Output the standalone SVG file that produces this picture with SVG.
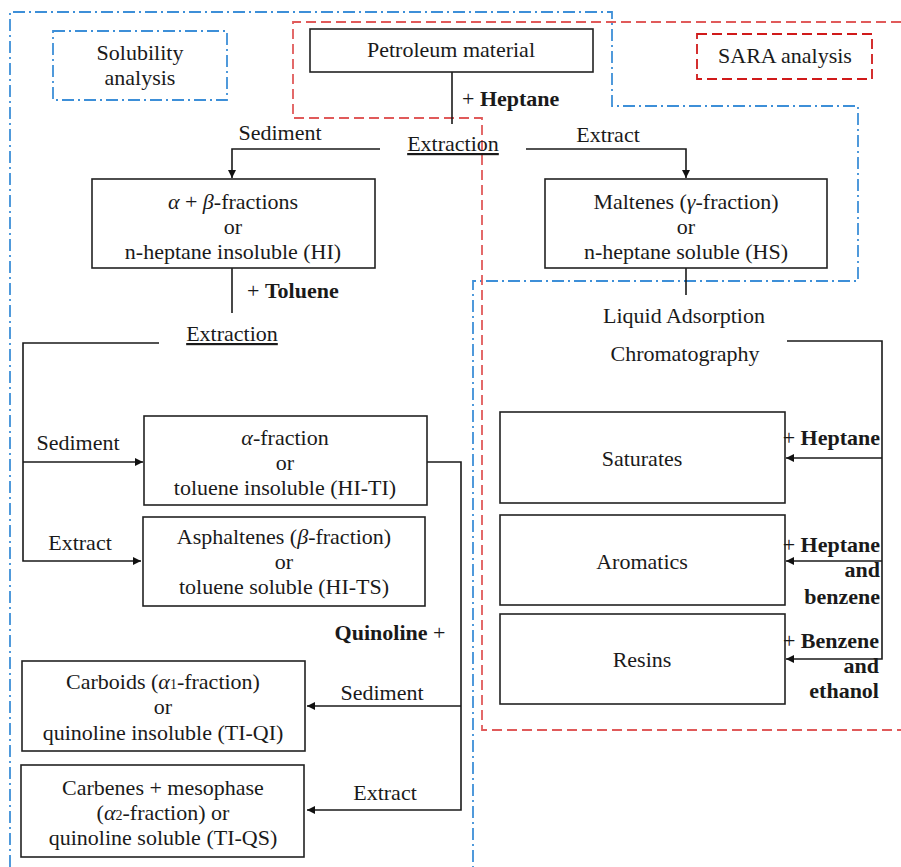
<svg xmlns="http://www.w3.org/2000/svg" width="901" height="867" viewBox="0 0 901 867">
<style>
text{font-family:"Liberation Serif","Times New Roman",serif;font-size:22px;fill:#1a1a1a}
.c{text-anchor:middle}
.e{text-anchor:end}
.b{font-weight:bold}
.i{font-style:italic}
.box{fill:#fff;stroke:#222;stroke-width:1.6}
.blue{fill:none;stroke:#3d8fd8;stroke-width:1.8;stroke-dasharray:12 4 2 4}
.red{fill:none;stroke:#e05a5a;stroke-width:1.8;stroke-dasharray:10 5}
.redd{fill:none;stroke:#d01a1a;stroke-width:1.8;stroke-dasharray:10 5}
.ln{fill:none;stroke:#1a1a1a;stroke-width:1.6}
</style>
<defs>
<marker id="ah" viewBox="0 0 10 10" refX="10" refY="5" markerWidth="8" markerHeight="8" markerUnits="userSpaceOnUse" orient="auto">
<path d="M0,0 L10,5 L0,10 z" fill="#111"/>
</marker>
</defs>
<rect width="901" height="867" fill="#fff"/>
<g id="regions">
<path class="blue" d="M10,867 L10,12 L612,12 L612,106 L858,106 L858,281 L473,281 L473,867"/>
<path class="red" d="M901,22 L293,22 L293,118 L482,118 L482,730 L901,730"/>
</g>
<g id="connectors">
<path class="ln" d="M452,72 V124"/>
<path class="ln" d="M380,149 H232 V178" marker-end="url(#ah)"/>
<path class="ln" d="M526,149 H686 V178" marker-end="url(#ah)"/>
<path class="ln" d="M232,268 V313"/>
<path class="ln" d="M159,343 H23 V561 H141" marker-end="url(#ah)"/>
<path class="ln" d="M23,462 H143" marker-end="url(#ah)"/>
<path class="ln" d="M427,462 H461 V810 H307" marker-end="url(#ah)"/>
<path class="ln" d="M461,706 H307" marker-end="url(#ah)"/>
<path class="ln" d="M686,268 V295"/>
<path class="ln" d="M787,341 H882 V659 H786" marker-end="url(#ah)"/>
<path class="ln" d="M882,458 H786" marker-end="url(#ah)"/>
<path class="ln" d="M882,561 H786" marker-end="url(#ah)"/>
</g>
<g id="solubility-label">
<rect x="53" y="31" width="174" height="69" class="blue"/>
<text class="c" x="140" y="60">Solubility</text>
<text class="c" x="140" y="85">analysis</text>
</g>
<g id="sara-label">
<rect x="697" y="34" width="175" height="45" class="redd"/>
<text class="c" x="785" y="63">SARA analysis</text>
</g>
<g id="petroleum">
<rect x="310" y="29" width="283" height="43" class="box"/>
<text class="c" x="451" y="57">Petroleum material</text>
</g>
<g id="labels-top">
<text x="462" y="106">+ <tspan class="b">Heptane</tspan></text>
<text class="c" x="453" y="151" text-decoration="underline">Extraction</text>
<text class="c" x="280" y="140">Sediment</text>
<text class="c" x="608" y="142">Extract</text>
</g>
<g id="hi">
<rect x="92" y="179" width="283" height="89" class="box"/>
<text class="c" x="233" y="209"><tspan class="i">α</tspan> + <tspan class="i">β</tspan>-fractions</text>
<text class="c" x="233" y="234">or</text>
<text class="c" x="233" y="259">n-heptane insoluble (HI)</text>
</g>
<g id="hs">
<rect x="545" y="179" width="282" height="89" class="box"/>
<text class="c" x="686" y="209">Maltenes (<tspan class="i">γ</tspan>-fraction)</text>
<text class="c" x="686" y="234">or</text>
<text class="c" x="686" y="259">n-heptane soluble (HS)</text>
</g>
<g id="labels-mid">
<text x="247" y="298">+ <tspan class="b">Toluene</tspan></text>
<text class="c" x="232" y="341" text-decoration="underline">Extraction</text>
<text class="c" x="78" y="450">Sediment</text>
<text class="c" x="80" y="550">Extract</text>
<text class="c" x="684" y="323">Liquid Adsorption</text>
<text class="c" x="685" y="361">Chromatography</text>
</g>
<g id="hi-ti">
<rect x="144" y="416" width="283" height="89" class="box"/>
<text class="c" x="285" y="445"><tspan class="i">α</tspan>-fraction</text>
<text class="c" x="285" y="470">or</text>
<text class="c" x="285" y="495">toluene insoluble (HI-TI)</text>
</g>
<g id="hi-ts">
<rect x="143" y="517" width="282" height="89" class="box"/>
<text class="c" x="284" y="544">Asphaltenes (<tspan class="i">β</tspan>-fraction)</text>
<text class="c" x="284" y="569">or</text>
<text class="c" x="284" y="594">toluene soluble (HI-TS)</text>
</g>
<g id="labels-low">
<text class="c" x="390" y="640"><tspan class="b">Quinoline</tspan> +</text>
<text class="c" x="382" y="700">Sediment</text>
<text class="c" x="385" y="800">Extract</text>
</g>
<g id="ti-qi">
<rect x="22" y="661" width="283" height="90" class="box"/>
<text class="c" x="163" y="689">Carboids (<tspan class="i">α</tspan><tspan font-size="14">1</tspan>-fraction)</text>
<text class="c" x="163" y="714">or</text>
<text class="c" x="163" y="740">quinoline insoluble (TI-QI)</text>
</g>
<g id="ti-qs">
<rect x="21" y="765" width="283" height="92" class="box"/>
<text class="c" x="163" y="795">Carbenes + mesophase</text>
<text class="c" x="163" y="820">(<tspan class="i">α</tspan><tspan font-size="14">2</tspan>-fraction) or</text>
<text class="c" x="163" y="845">quinoline soluble (TI-QS)</text>
</g>
<g id="saturates">
<rect x="500" y="412" width="285" height="91" class="box"/>
<text class="c" x="642" y="466">Saturates</text>
</g>
<g id="aromatics">
<rect x="500" y="515" width="285" height="90" class="box"/>
<text class="c" x="642" y="569">Aromatics</text>
</g>
<g id="resins">
<rect x="500" y="614" width="285" height="90" class="box"/>
<text class="c" x="642" y="667">Resins</text>
</g>
<g id="labels-right">
<text class="e" x="880" y="445">+ <tspan class="b">Heptane</tspan></text>
<text class="e" x="880" y="552">+ <tspan class="b">Heptane</tspan></text>
<text class="e b" x="880" y="577">and</text>
<text class="e b" x="880" y="604">benzene</text>
<text class="e" x="879" y="648">+ <tspan class="b">Benzene</tspan></text>
<text class="e b" x="879" y="673">and</text>
<text class="e b" x="879" y="698">ethanol</text>
</g>
</svg>
